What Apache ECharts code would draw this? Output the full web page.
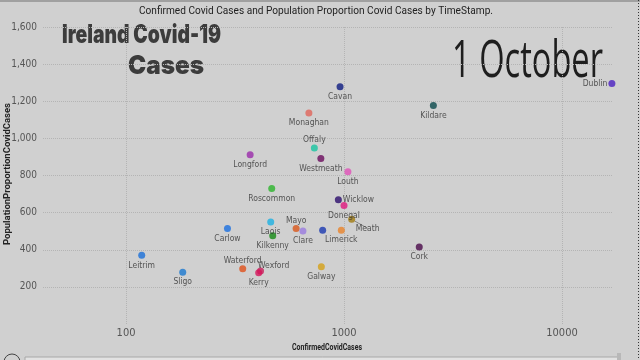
<!DOCTYPE html>
<html>
<head>
<meta charset="utf-8">
<script src="https://cdn.jsdelivr.net/npm/echarts@6/dist/echarts.min.js"></script>
<style>
html,body{margin:0;padding:0;background:#d0d0d0;}
#c{width:640px;height:360px;}
</style>
</head>
<body>
<div id="c"></div>
<script>
// ---- data ----
const counties = ["Dublin","Cavan","Kildare","Monaghan","Offaly","Longford","Westmeath","Louth","Roscommon","Wicklow","Donegal","Meath","Laois","Carlow","Mayo","Clare","Kilkenny","Tipperary","Limerick","Leitrim","Sligo","Waterford","Wexford","Kerry","Galway","Cork"];
const confirmedCases = [16940,959,2570,690,731,371,783,1042,466,942,1000,1084,461,292,603,648,471,798,972,118,182,343,414,406,787,2214];
const proportionCases = [1296,1278,1177,1137,948,912,892,820,730,669,638,564,550,514,514,501,476,505,505,370,279,297,285,276,308,415];
const xTickValues = [100,1000,10000];
const yTicks = [200,400,600,800,1000,1200,1400,1600];
const chartTitle = "Confirmed Covid Cases and Population Proportion Covid Cases by TimeStamp.";
const headline = ["Ireland Covid-19","Cases"];
const frameLabel = "1 October";
const xName = "ConfirmedCovidCases";
const yName = "PopulationProportionCovidCases";

// ---- styles ----
const colors = {Dublin:"#4a1fc0",Cavan:"#0c1a80",Kildare:"#0b4a4c",Monaghan:"#e0645a",Offaly:"#18c4a0",Longford:"#9a2aaa",Westmeath:"#6a0a5c",Louth:"#e050b8",Roscommon:"#2cb42c",Wicklow:"#2a0c6c",Donegal:"#e0187e",Meath:"#a07a10",Laois:"#1cb0e2",Carlow:"#1a6fe0",Mayo:"#d8561a",Clare:"#9a7ae0",Kilkenny:"#148a14",Tipperary:"#1a38b0",Limerick:"#e8832a",Leitrim:"#1a6fd8",Sligo:"#1a78d0",Waterford:"#e0501a",Wexford:"#c81e5a",Kerry:"#d4145a",Galway:"#d4a017",Cork:"#4a0a4a"};
const labelCfg = {
  Dublin:{position:"left",distance:1},
  Offaly:{position:"top",distance:0},
  Mayo:{position:"top",distance:0},
  Waterford:{position:"top",distance:0},
  Wexford:{position:"right",distance:0,offset:[-6,-5]},
  Wicklow:{position:"right",distance:1},
  Meath:{position:"bottom",distance:2,offset:[16,-1]},
  Tipperary:{show:false}
};
const NARROW = "'Liberation Sans Narrow','DejaVu Sans Condensed',Roboto,sans-serif";

const cv = document.createElement('canvas').getContext('2d');
function fit(text, font, w){ cv.font = font; return w / cv.measureText(text).width; }

const seriesData = counties.map((n,i)=>{
  const item = {name:n, value:[confirmedCases[i], proportionCases[i]], itemStyle:{color:colors[n]}};
  if (labelCfg[n]) item.label = labelCfg[n];
  if (n === "Meath") item.labelLine = {show:true, lineStyle:{color:"#888",width:1}};
  return item;
});

const F_TITLE = "11px Roboto";
const F_HEAD = "900 26px Inter";
const F_FRAME = "400 52px 'Open Sans'";
const F_AXN = "bold 9px Roboto";

const chart = echarts.init(document.getElementById('c'), null, {renderer:'canvas'});
chart.setOption({
  backgroundColor:"#d0d0d0",
  animation:false,
  grid:{left:43,right:27,top:27,bottom:36},
  xAxis:{
    type:"log", logBase:10, min:41.6, max:17140,
    axisLine:{show:false}, axisTick:{show:false},
    splitLine:{show:true, showMinLine:false, showMaxLine:false, lineStyle:{type:"dotted",color:"#b4b4b4",width:1}},
    axisLabel:{margin:4, fontSize:11, color:"#555", fontFamily:NARROW,
      formatter:function(v){ const r=Math.round(v); return xTickValues.indexOf(r)>=0 ? String(r) : ""; }}
  },
  yAxis:{
    type:"value", min:0, max:yTicks[yTicks.length-1], interval:200,
    axisLine:{show:false}, axisTick:{show:false},
    splitLine:{show:true, showMinLine:false, lineStyle:{type:"dotted",color:"#b4b4b4",width:1}},
    axisLabel:{margin:6, fontSize:10, color:"#555", fontFamily:NARROW, showMinLabel:false,
      formatter:function(v){ return yTicks.indexOf(v)>=0 ? v.toLocaleString("en-US") : ""; }}
  },
  series:[{
    type:"scatter", symbolSize:7, data:seriesData,
    label:{show:true, position:"bottom", distance:2, formatter:"{b}", fontSize:8.5, color:"#333", fontFamily:NARROW},
    labelLine:{show:false}
  }],
  graphic:[
    {type:"rect", shape:{x:0,y:0,width:640,height:2}, style:{fill:"#a0a0a0"}, silent:true},
    {type:"line", shape:{x1:638.5,y1:0,x2:638.5,y2:360}, style:{stroke:"#333",lineWidth:1,lineDash:[1,2]}, silent:true},
    {type:"text", x:316, y:11.5, scaleX:fit(chartTitle,F_TITLE,354), style:{text:chartTitle, font:F_TITLE, fill:"#222", align:"center", verticalAlign:"middle"}},
    {type:"text", x:141.5, y:35, scaleX:fit(headline[0],F_HEAD,159), style:{text:headline[0], font:F_HEAD, fill:"#3c3c3c", align:"center", verticalAlign:"middle"}},
    {type:"text", x:166, y:66, scaleX:fit(headline[1],F_HEAD,76), style:{text:headline[1], font:F_HEAD, fill:"#3c3c3c", align:"center", verticalAlign:"middle"}},
    {type:"text", x:527.5, y:62, scaleX:fit(frameLabel,F_FRAME,151), style:{text:frameLabel, font:F_FRAME, fill:"#1e1e1e", align:"center", verticalAlign:"middle"}},
    {type:"text", x:327, y:348, scaleX:fit(xName,F_AXN,70), style:{text:xName, font:F_AXN, fill:"#222", align:"center", verticalAlign:"middle"}},
    {type:"text", x:8, y:174, rotation:Math.PI/2, scaleX:fit(yName,F_AXN,142), style:{text:yName, font:F_AXN, fill:"#222", align:"center", verticalAlign:"middle"}},
    {type:"rect", shape:{x:25,y:357,width:595,height:8}, style:{fill:"#e2e2e2",stroke:"#a8a8a8",lineWidth:1}, silent:true},
    {type:"rect", shape:{x:617,y:353,width:4,height:10}, style:{fill:"#b8b8b8"}, silent:true},
    {type:"circle", shape:{cx:12,cy:362,r:8}, style:{fill:"none",stroke:"#444",lineWidth:1}, silent:true}
  ]
});
</script>
</body>
</html>
